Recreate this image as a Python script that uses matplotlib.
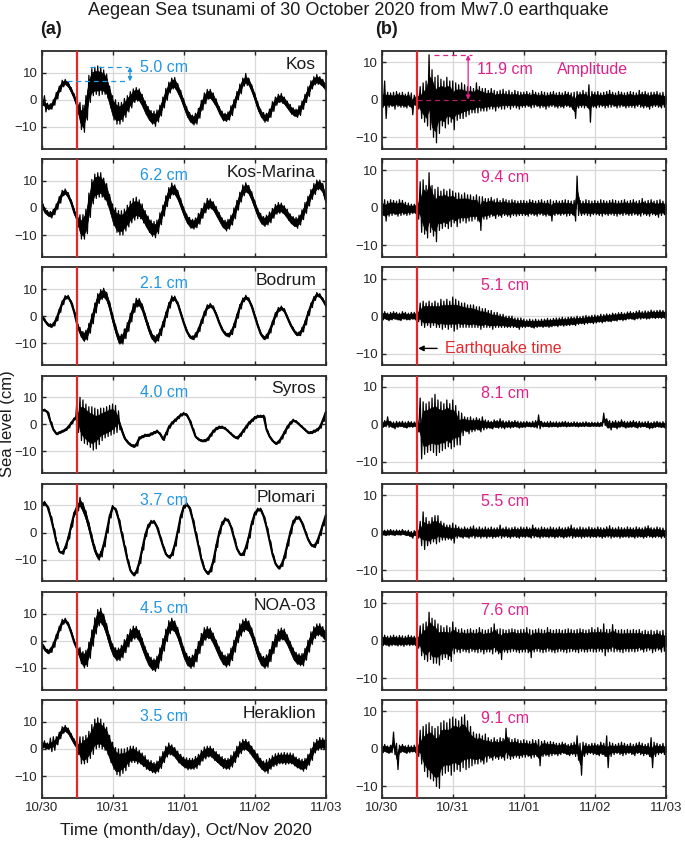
import numpy as np
import matplotlib
matplotlib.use('Agg')
import matplotlib.pyplot as plt

plt.rcParams['font.family'] = ['Liberation Sans', 'DejaVu Sans']

# ---------------- data ----------------
stations = ['Kos', 'Kos-Marina', 'Bodrum', 'Syros', 'Plomari', 'NOA-03', 'Heraklion']
amp_left = ['5.0 cm', '6.2 cm', '2.1 cm', '4.0 cm', '3.7 cm', '4.5 cm', '3.5 cm']
amp_right = ['11.9 cm', '9.4 cm', '5.1 cm', '8.1 cm', '5.5 cm', '7.6 cm', '9.1 cm']
day_labels = ['10/30', '10/31', '11/01', '11/02', '11/03']
day_ticks_h = [0, 24, 48, 72, 96]
hours = np.arange(97)          # hourly samples, 10/30 00:00 -> 11/03 00:00
quake_hour = 11.85             # earthquake time (hours after 10/30 00:00)

# ---- (a) observed sea level: centre line and noise half-width (cm), hourly ----
kos_c = [-1, -1.5, -2.5, -2.5, -1, 1.5, 4, 6, 6.5, 5.5, 3.5, 1,
         -2, -6, -7, -3, 4, 6.5, 7, 7, 7, 6.5, 5, 1,
         -3, -4.5, -5, -4.5, -3, -1.5, 0, 1.5, 2, 1.5, -0.5, -3,
         -5, -6.5, -7, -6, -4, -1, 2, 4.5, 6, 6, 4, 1.5,
         -1.5, -4.5, -6.5, -7.5, -7, -5, -2, 0.5, 2, 2, 0.5, -1.5,
         -4, -6, -6.5, -6, -4, -1.5, 1.5, 4, 6.5, 7.5, 6.5, 4,
         1, -2.5, -5, -6.5, -6.5, -5, -2.5, -0.5, 0.5, 0.5, -0.5, -2,
         -3.5, -4.5, -5, -4, -2, 0.5, 3, 5.5, 7, 7.5, 7, 6,
         4.5]
kos_w = [1, 3, 1.2, 1, 1, 1.2, 1, 1.2, 1, 1.2, 1, 1.2,
         3, 5, 5, 4.5, 5, 5, 5, 5.5, 5, 4.5, 4.5, 4,
         4.5, 4.5, 4, 3.5, 3.5, 3, 3, 2.5, 2.5, 2.5, 2.5, 2.5,
         2.5, 2.5, 2.8, 2.2, 2, 2, 2.2, 2, 2, 2.2, 2, 2,
         1.8, 2, 1.8, 1.8, 2, 1.8, 1.8, 2, 1.8, 1.8, 2, 1.8,
         1.5, 1.8, 1.5, 1.5, 1.8, 1.5, 1.5, 1.8, 1.5, 2.2, 1.5, 1.5,
         1.5, 1.8, 1.5, 1.8, 1.5, 1.5, 1.8, 1.5, 1.5, 1.8, 1.5, 1.5,
         1.8, 1.5, 1.5, 1.8, 1.5, 1.5, 1.8, 1.5, 1.5, 1.8, 1.5, 1.5,
         1.5]

kmar_c = [2, -1, -2, -2.5, -1.5, 0.5, 3, 5.5, 6, 4.5, 2, -1.5,
          -4, -7, -7, -5, 1, 6, 8, 8.5, 8.5, 7, 5, 1.5,
          -2.5, -4.5, -5.5, -5.5, -4.5, -3, -1.5, -0.5, 0, -0.5, -2, -4,
          -6, -7.5, -8, -7, -4, -1, 2.5, 5.5, 7, 6.5, 4.5, 1.5,
          -1.5, -4, -5.5, -6, -5.5, -4, -2, 0, 1.5, 1.5, 0.5, -1.5,
          -3.5, -5.5, -6.5, -6, -4.5, -2, 1, 4, 6.5, 7.5, 6.5, 4,
          1, -2, -4, -5, -4.5, -3.5, -2, -0.5, 0, 0, -1, -2.5,
          -4, -5, -5.5, -4.5, -2.5, 0, 2.5, 5, 7, 8.5, 8.5, 7,
          3]
kmar_w = [1.5, 1, 1, 1.2, 1, 1, 1.2, 1, 1, 1.2, 1, 1.2,
          3, 4.5, 4.5, 4.5, 4.5, 4.5, 4.5, 4.5, 4.5, 4, 4, 3.5,
          4, 4.5, 4.5, 4.5, 4, 4, 4, 4, 4, 3.5, 3.5, 3,
          3, 3, 3, 2.5, 2.2, 2, 2, 2, 2.2, 2, 2, 2,
          1.8, 1.8, 2, 1.8, 1.8, 2, 1.8, 1.8, 2, 1.8, 1.8, 2,
          1.8, 1.8, 2, 1.8, 1.8, 2, 1.8, 1.8, 2, 1.8, 1.8, 2,
          1.8, 1.8, 2, 1.8, 1.8, 2, 1.8, 1.8, 2, 1.8, 1.8, 2,
          1.8, 1.8, 2, 1.8, 1.8, 2, 1.8, 1.8, 2, 1.8, 1.8, 2,
          1.8]

bod_c = [0, -1.5, -3, -3.5, -3, -1, 2, 5, 7, 7, 5, 1.5,
         -3, -6, -7.5, -7, -4.5, -1, 3, 6.5, 8, 8.5, 7, 3.5,
         -1, -5, -8.5, -8.5, -6.5, -4, -0.5, 3, 5, 5, 3, -0.5,
         -4, -7, -8.5, -8, -6, -3, 0.5, 4, 6.5, 6.5, 4.5, 1,
         -2.5, -5.5, -7.5, -8, -7, -5, -2, 1, 3.5, 4, 3, 0.5,
         -2.5, -5, -6.5, -7, -6, -3.5, 0, 3.5, 6, 7, 6, 3.5,
         0, -3.5, -6.5, -8, -7.5, -5.5, -2.5, 0.5, 2.5, 3, 2, -0.5,
         -3, -5, -6.5, -6.5, -5, -2.5, 1, 4, 6.5, 8, 7.5, 6,
         4]
bod_w = [0.6, 0.7, 0.6, 0.7, 0.6, 0.7, 0.6, 0.7, 0.6, 0.7, 0.6, 0.7,
         1.2, 1.8, 1.8, 1.8, 1.8, 1.8, 1.8, 1.8, 1.8, 1.8, 1.8, 1.8,
         1.8, 1.8, 1.8, 1.8, 1.8, 1.6, 1.6, 1.6, 1.6, 1.5, 1.5, 1.5,
         1.5, 1.5, 1.4, 1.2, 1.2, 1, 1, 1, 1, 0.9, 0.8, 0.8,
         0.7, 0.8, 0.7, 0.7, 0.8, 0.7, 0.7, 0.8, 0.7, 0.7, 0.8, 0.7,
         0.7, 0.8, 0.7, 0.7, 0.8, 0.7, 0.7, 0.8, 0.7, 0.7, 0.8, 0.7,
         0.7, 0.8, 0.7, 0.7, 0.8, 0.7, 0.7, 0.8, 0.7, 0.7, 0.8, 0.7,
         0.7, 0.8, 0.7, 0.7, 0.8, 0.7, 0.7, 0.8, 0.7, 0.7, 0.8, 0.7,
         0.7]

syr_c = [5.3, 5.3, 4.5, 1, -2, -3.5, -3, -2.5, -2, -1, 0.5, 2,
         3, 2, 1, 0, -1, -1.5, -1.5, -1, 0, 0.5, 1, 1.5,
         2, 2, 1.5, -2, -5, -6.5, -7.5, -8, -7.5, -5, -4.5, -4,
         -4, -3.5, -3, -2.5, -3.5, -5.5, -3.5, -1, 0.5, 1.5, 2.5, 3.5,
         4, 3.5, 1.5, -1.5, -4.5, -5.5, -6, -6, -5.5, -4, -2.5, -1.5,
         -1, -1, -1.5, -2.5, -3.5, -4.5, -5, -4, -2.5, -1, 0.5, 1.5,
         2.5, 3, 3, 3, -2, -4.5, -6, -7, -6.5, -5, -3, -1,
         0.5, 1.5, 1, 0, -1, -2, -3, -3, -2.5, -2, -1, 1.5,
         4.5]
syr_w = [0.3, 0.3, 0.3, 0.3, 0.3, 0.3, 0.3, 0.3, 0.3, 0.3, 0.3, 0.3,
         6, 8, 8, 7.5, 7.5, 8, 7.5, 6.5, 6, 5.5, 5.5, 5.5,
         5.5, 5, 3.5, 1, 0.8, 0.6, 0.5, 0.5, 0.5, 0.4, 0.4, 0.4,
         0.4, 0.4, 0.4, 0.4, 0.4, 0.4, 0.4, 0.4, 0.4, 0.4, 0.4, 0.4,
         0.4, 0.4, 0.4, 0.4, 0.4, 0.4, 0.4, 0.4, 0.4, 0.4, 0.4, 0.4,
         0.4, 0.4, 0.4, 0.4, 0.4, 0.4, 0.4, 0.4, 0.4, 0.4, 0.4, 0.4,
         0.4, 0.4, 0.4, 0.4, 0.4, 0.4, 0.4, 0.4, 0.4, 0.4, 0.4, 0.4,
         0.4, 0.4, 0.4, 0.4, 0.4, 0.4, 0.4, 0.4, 0.4, 0.4, 0.4, 0.4,
         0.4]

plo_c = [10.5, 11, 9.5, 6, 1.5, -3.5, -7, -7.5, -5.5, -2, 2.5, 7,
         9.5, 11, 9, 6, 2, -2.5, -6.5, -9, -8, -4.5, 0.5, 6,
         9.5, 8.5, 5, 0, -5, -10, -14, -15.5, -14.5, -11, -6, -1,
         2.5, 4, 4, 2, -1.5, -5, -8, -9, -8, -4.5, 0.5, 6,
         9.5, 10.5, 9, 5, 0, -5, -10, -13.5, -15, -14, -10.5, -5,
         0, 3.5, 5, 4.5, 2, -2, -6, -8, -8, -5.5, -1.5, 3.5,
         7, 8.5, 8.5, 6, 2, -3, -8, -11.5, -13, -12, -9, -4.5,
         0, 4, 5.5, 5.5, 3.5, 0.5, -2.5, -4.5, -5, -3.5, -0.5, 3,
         6.3]
plo_w = [0.4, 0.5, 0.4, 0.4, 0.5, 0.4, 0.4, 0.5, 0.4, 0.4, 0.5, 0.4,
         1.5, 2, 2, 2, 1.8, 1.8, 1.5, 1.2, 1, 0.8, 0.7, 0.6,
         0.5, 0.5, 0.5, 0.5, 0.5, 0.5, 0.5, 0.5, 0.5, 0.5, 0.5, 0.5,
         0.5, 0.5, 0.5, 0.5, 0.5, 0.5, 0.5, 0.5, 0.5, 0.5, 0.5, 0.5,
         0.5, 0.5, 0.5, 0.5, 0.5, 0.5, 0.5, 0.5, 0.5, 0.5, 0.5, 0.5,
         0.5, 0.5, 0.5, 0.5, 0.5, 0.5, 0.5, 0.5, 0.5, 0.5, 0.5, 0.5,
         0.5, 0.5, 0.5, 0.5, 0.5, 0.5, 0.5, 0.5, 0.5, 0.5, 0.5, 0.5,
         0.5, 0.5, 0.5, 0.5, 0.5, 0.5, 0.5, 0.5, 0.5, 0.5, 0.5, 0.5,
         0.5]

noa_c = [-1, -3, -4, -3.5, -1.5, 1.5, 4.5, 7, 7.5, 6, 3, -0.5,
         -3, -5.5, -7, -6.5, -3.5, 1, 5.5, 8.5, 9, 7, 3.5, -0.5,
         -3.5, -5, -5, -4, -2, 0, 2, 3, 3, 1.5, -1.5, -4.5,
         -7, -8.5, -9, -8, -5, -1.5, 2, 5, 6, 5, 2.5, -1,
         -4.5, -7, -8, -7.5, -5.5, -2.5, 0.5, 2.5, 3, 2.5, 0.5, -2,
         -4.5, -6.5, -7.5, -7, -5, -2, 1.5, 4, 5.5, 6, 5, 2.5,
         -1, -4.5, -7, -8, -7.5, -5.5, -2.5, 0, 2, 2.5, 2, 0,
         -2.5, -5, -6.5, -7, -7, -5, -2, 1, 3, 4, 4, 3,
         1.5]
noa_w = [0.8, 0.9, 0.8, 0.8, 0.9, 0.8, 0.8, 0.9, 0.8, 0.8, 0.9, 0.8,
         2, 3, 3, 3, 3, 3, 3, 3, 3, 2.8, 2.8, 2.5,
         2.3, 2.4, 2.3, 2.3, 2.4, 2.3, 2.3, 2.4, 2.3, 2.3, 2.4, 2.3,
         2.3, 2.4, 2.3, 2.3, 2.4, 2.3, 2.3, 2.4, 2.3, 2.3, 2.4, 2.3,
         2.2, 2.3, 2.2, 2.2, 2.3, 2.2, 2.2, 2.3, 2.2, 2.2, 2.3, 2.2,
         2.2, 2.3, 2.2, 2.2, 2.3, 2.2, 2.2, 2.3, 2.2, 2.2, 2.3, 2.2,
         2.2, 2.3, 2.2, 2.2, 2.3, 2.2, 2.2, 2.3, 2.2, 2.2, 2.3, 2.2,
         2.2, 2.3, 2.2, 2.2, 2.3, 2.2, 2.2, 2.3, 2.2, 2.2, 2.3, 2.2,
         2.2]

her_c = [1.5, 1.5, 1, 1.5, 2, 3, 5, 7, 7.5, 6.5, 4.5, 2.5,
         1, -0.5, -0.5, 0, 1.5, 3.5, 5.5, 6, 5.5, 4.5, 3, 0,
         -2.5, -4.5, -5, -4.5, -4, -3, -2, -2, -2.5, -3, -4, -5,
         -6, -6.5, -7, -6.5, -5, -3, -1, 0, -0.5, -1.5, -3, -4,
         -5, -5.5, -5.5, -5.5, -5, -4, -2.5, -1.5, -1, -1, -2, -3,
         -4, -5, -5.5, -5.5, -4.5, -3, -1, 0.5, 1.5, 1.5, 0.5, -1,
         -2.5, -4, -5.5, -6.5, -6.5, -5.5, -4.5, -4, -3.5, -3.5, -3.5, -3.5,
         -3.5, -4, -5, -5.5, -6, -5.5, -4, -2, 0.5, 1.5, 2, 2,
         2]
her_w = [1.2, 1.5, 1.2, 2.5, 2.5, 1.5, 1.2, 1.2, 1.2, 1.2, 1.2, 1.2,
         3, 5, 5, 5, 5, 5.5, 5.5, 5.5, 5.5, 5, 5, 5,
         5, 5, 5, 4.5, 4, 3.5, 3, 3, 3, 2.5, 2.5, 2.5,
         2, 2.2, 2, 2, 2.2, 2, 2, 2.2, 2, 2, 2.2, 2,
         2, 2.2, 2, 2, 2.2, 2, 2, 2.2, 2, 2, 2.2, 2,
         2, 2.2, 2, 2, 2.2, 2, 2, 2.2, 2, 2, 2.2, 2,
         2, 2.2, 2, 2, 2.5, 2, 2, 2.2, 2, 2, 2.2, 2,
         2, 2.2, 2, 2, 2.2, 2, 2, 2.2, 2, 2, 2.2, 2,
         2]

# ---- (b) de-tided residuals: upper and lower envelope (cm), hourly ----
kos_up = [2, 5, 2, 1.8, 2, 2.2, 1.8, 2, 1.5, 2, 1.8, 1.2,
          2.5, 3.5, 4.5, 5, 12, 8, 6, 6.5, 5.5, 5, 6, 5,
          5, 4.5, 4, 4.5, 4, 3.5, 3.5, 3, 4.5, 3.5, 3, 3,
          2.5, 3, 2.5, 2.2, 2.5, 2.8, 2.2, 2.5, 2, 2.5, 2.2, 2,
          2, 2.2, 1.8, 2.5, 2, 1.8, 2.2, 2, 1.8, 2, 2.2, 1.8,
          2, 1.8, 2.2, 2, 1.8, 2, 2.2, 2, 2.5, 2, 4, 2.2,
          2, 2.2, 1.8, 2, 2.2, 2.5, 2, 1.8, 2.2, 2, 1.8, 2,
          2.2, 2, 1.8, 2.5, 2, 2.2, 1.8, 2, 2, 2.2, 1.8, 2,
          1.5]
kos_lo = [-2, -5, -2, -1.8, -2.5, -1.8, -2, -2, -2.2, -1.8, -4, -1.5,
          -2.5, -5, -6, -7, -8, -10, -11.5, -9, -7, -7.5, -6.5, -6,
          -8, -5.5, -5, -5, -4.5, -4, -3.5, -3.5, -3.5, -3, -3, -3,
          -2.5, -2.5, -3, -2.2, -2.5, -2.5, -2, -2.5, -2, -2.2, -2.5, -2,
          -2, -1.8, -2.2, -2, -1.8, -2.2, -2, -2.5, -2, -1.8, -2, -2.2,
          -2, -2.2, -1.8, -2, -2.5, -5, -2.2, -2, -2.2, -2, -6, -2,
          -2.2, -2, -1.8, -2.2, -2, -2, -1.8, -2.2, -2, -1.8, -2.2, -2,
          -2, -2.2, -1.8, -2, -2.2, -2, -2.5, -2, -1.8, -2, -2.2, -2,
          -1.5]

kmar_up = [2, 2.2, 1.8, 2.2, 2, 1.8, 2.2, 2, 1.5, 1.3, 1, 1,
           3, 7, 7.5, 6, 9.4, 6, 5, 5.5, 4.5, 5, 4.5, 5,
           4.5, 4, 4, 3.5, 4, 3.5, 3.5, 3, 3.5, 3, 3, 2.5,
           2.5, 2.8, 2.2, 2.5, 2, 2.5, 2.2, 2, 2.2, 2, 1.8, 2,
           2, 1.8, 2.2, 2, 1.8, 2, 2.2, 1.8, 2, 2.2, 1.8, 2,
           1.8, 2, 2.2, 2, 1.8, 2, 8.5, 2, 1.8, 2.2, 2, 1.8,
           2, 1.8, 2.2, 2, 1.8, 2, 2.2, 2, 1.8, 2, 2.2, 1.8,
           2, 2.2, 1.8, 2, 2.5, 1.8, 2, 2.2, 1.8, 2, 2.2, 1.8,
           1.5]
kmar_lo = [-2, -3.5, -2.2, -2, -1.8, -2.2, -2, -1.8, -2, -1.8, -1.5, -1.5,
           -3, -6.5, -7, -8, -6.5, -7.5, -9, -6, -5.5, -5, -5.5, -5,
           -4, -5, -4, -3.5, -4, -3.5, -3.5, -3, -3.5, -6, -3, -3,
           -2.5, -2.2, -2.8, -2.2, -2.5, -2, -2.2, -2.5, -2, -2.2, -2, -2,
           -2, -2.2, -1.8, -2, -2.2, -1.8, -2, -2.2, -2, -3.5, -2, -1.8,
           -2, -1.8, -2.2, -2, -1.8, -3.5, -2, -2, -1.8, -2, -2.2, -1.8,
           -1.8, -2, -2.2, -1.8, -2, -1.8, -2, -2.2, -1.8, -2, -1.8, -2,
           -2, -1.8, -2, -2.2, -1.8, -2, -2.2, -1.8, -2, -2.5, -2, -1.8,
           -2]

bod_up = [1, 1.2, 0.8, 1, 1.2, 1, 0.8, 1.2, 1, 0.8, 1, 1,
          2, 3.5, 4, 3.5, 4, 3.5, 4, 3.5, 4.5, 4, 4.5, 4,
          5.1, 4.5, 4, 3.5, 3.5, 3, 3, 3, 2.5, 2.5, 2, 2,
          1.5, 1.5, 1, 1, 0.5, 0.5, 0, 0, 0, -0.5, -0.5, -0.5,
          -0.8, -1, -0.8, -1, -0.8, -1, -0.8, -0.8, -0.6, -0.8, -0.6, -0.5,
          -0.5, -0.3, -0.5, -0.3, -0.2, -0.3, 0, -0.2, 0, 0.2, 0, 0.2,
          0.3, 0.2, 0.5, 0.4, 0.6, 0.5, 0.8, 0.7, 0.9, 1, 0.8, 1.1,
          1.2, 1, 1.3, 1.5, 1.2, 1.4, 1.3, 1.6, 1.4, 1.5, 1.6, 1.5,
          1.5]
bod_lo = [-1, -0.8, -1.2, -1, -0.8, -1, -1.2, -0.8, -1, -1, -0.8, -1,
          -1.5, -2.5, -3, -2.5, -3, -2.5, -3, -3, -3.5, -3, -3.5, -3,
          -4, -3.5, -3, -3, -3, -3, -3, -3, -3, -3.5, -3, -3,
          -3, -3.5, -3, -3, -3, -3, -3, -3, -3, -3, -3.5, -3,
          -3, -2.8, -3, -3.2, -3, -2.8, -3, -2.8, -3, -2.8, -2.6, -2.8,
          -2.5, -2.7, -2.5, -2.5, -2.3, -2.5, -2.2, -2, -2.2, -2, -1.8, -2,
          -1.8, -1.6, -1.8, -1.5, -1.4, -1.5, -1.2, -1.3, -1, -1.2, -1, -0.8,
          -0.8, -1, -0.7, -0.8, -0.6, -0.8, -0.7, -0.5, -0.6, -0.5, -0.6, -0.5,
          -0.4]

syr_up = [0.8, 1, 2, 0.8, 0.6, 0.8, 0.7, 0.8, 0.6, 0.8, 0.7, 0.6,
          2, 7, 6, 5.5, 6, 7, 8, 6.5, 6, 5.5, 6.5, 5.5,
          6.5, 5, 3.5, 3, 2, 1.8, 2, 1.5, 1.8, 1.5, 2, 1.2,
          1, 0.8, 1.2, 1, 1.5, 1, 0.8, 1, 0.8, 1, 0.8, 0.7,
          0.7, 0.8, 0.6, 0.8, 1, 2.5, 0.8, 0.6, 0.7, 0.8, 0.6, 0.7,
          0.6, 0.7, 0.8, 0.6, 0.5, 0.7, 0.6, 0.5, 0.6, 0.7, 0.5, 0.6,
          0.5, 0.6, 0.5, 3, 1.5, 1, 0.8, 1, 0.8, 1.2, 0.8, 0.7,
          0.8, 1, 0.7, 0.8, 0.6, 0.7, 0.8, 0.5, 0.7, 0.8, 0.6, 0.7,
          0.7]
syr_lo = [-0.8, -0.6, -0.8, -0.7, -1.2, -0.8, -0.6, -0.8, -1, -0.7, -0.8, -0.6,
          -2, -9.2, -8, -7.5, -7, -7.5, -8.3, -7.5, -7, -6.5, -6, -6.5,
          -6, -5.5, -5.5, -3, -2, -2.5, -2, -1.8, -1.5, -2, -1.5, -1.2,
          -1, -1.2, -0.8, -1, -1, -1.2, -0.8, -1, -0.8, -0.7, -1, -0.8,
          -0.8, -0.6, -0.7, -0.8, -1, -1.2, -0.7, -0.6, -0.8, -0.7, -0.6, -0.8,
          -0.6, -0.5, -0.7, -0.6, -0.5, -0.6, -0.7, -0.5, -0.6, -0.5, -0.6, -0.5,
          -0.5, -0.6, -0.5, -0.3, -1, -1.5, -0.8, -1.2, -0.8, -0.7, -1, -0.8,
          -0.8, -0.7, -1, -0.8, -0.6, -0.8, -1.2, -1, -0.8, -0.7, -0.8, -0.9,
          -0.8]

plo_up = [0.8, 0.6, 0.7, 0.8, 0.6, 0.7, 0.6, 0.8, 0.5, 0.6, 0.3, 0.5,
          1.5, 3, 5.5, 4, 3, 4, 4.5, 4.5, 3, 2.5, 2, 2,
          2.5, 2, 1.5, 1.2, 1.5, 1.2, 1.5, 1.8, 1.2, 1.5, 1.2, 1.5,
          1.2, 1.5, 1.2, 1.3, 2, 1.2, 1.5, 1.2, 1.3, 1.5, 1.2, 1.5,
          1.3, 1.5, 1.2, 2, 1.3, 1.2, 1.5, 1.3, 1.2, 1.5, 1.3, 1.2,
          1.5, 1.2, 1.3, 1.5, 2, 1.3, 1.2, 1.5, 1.3, 1.2, 1.5, 1.3,
          1.2, 1.5, 1.3, 1.2, 1.5, 1.8, 1.3, 1.2, 1.5, 1.3, 1.2, 1.5,
          1.3, 1.2, 1.5, 1.3, 1.2, 1.5, 1.8, 1.3, 1.2, 1.5, 1.3, 1.2,
          1]
plo_lo = [-0.6, -0.8, -0.7, -0.6, -0.8, -0.6, -0.7, -0.5, -0.8, -1, -1.5, -0.8,
          -1.5, -3.5, -4.5, -3.5, -3, -2.5, -3, -2.5, -2, -2, -1.8, -2,
          -2.8, -1.5, -1.2, -1.5, -1.2, -1.5, -1.2, -1.5, -1.2, -1.5, -1.2, -1.5,
          -1.2, -1.5, -1.3, -1.2, -1.5, -1.2, -1.3, -1.5, -1.2, -1.3, -1.5, -1.2,
          -1.3, -1.2, -1.5, -1.3, -1.2, -1.5, -1.3, -1.2, -1.4, -1.2, -1.5, -1.3,
          -1.2, -1.5, -1.3, -1.2, -1.5, -1.3, -1.2, -1.5, -1.3, -1.2, -1.4, -1.2,
          -1.3, -1.2, -1.5, -1.3, -1.2, -1.5, -1.3, -1.2, -1.5, -1.3, -1.2, -1.4,
          -1.2, -1.5, -1.3, -1.2, -1.5, -1.3, -1.2, -1.4, -1.3, -1.2, -1.5, -1.3,
          -1]

noa_up = [1.3, 1.5, 1.2, 1.3, 1.5, 1.2, 1.4, 1.3, 1.2, 1.5, 1.3, 1.2,
          2, 4, 4.5, 5, 7.6, 6, 5.5, 4.5, 4, 3.5, 4, 3.5,
          5, 3.5, 3, 3.2, 2.8, 3, 3.2, 2.8, 3, 3.5, 3, 2.8,
          3, 3.5, 4.5, 3, 3.2, 3, 2.8, 3, 3.2, 3, 2.8, 3,
          3, 3.5, 3, 2.8, 3, 3.2, 3, 2.8, 3.5, 3, 2.8, 3,
          3, 2.8, 3, 3.2, 3, 2.8, 3, 3.2, 3, 2.8, 3, 3.5,
          3, 3.5, 3, 4.5, 3, 3, 4.3, 3, 2.8, 3, 2.8, 3,
          2.8, 3, 2.8, 3, 2.5, 2.8, 2.5, 2.8, 2.5, 2.8, 2.5, 2.8,
          2]
noa_lo = [-1.3, -1.2, -1.5, -1.3, -1.2, -1.4, -1.3, -1.5, -1.2, -1.3, -1.2, -1.3,
          -2, -4, -5, -5.5, -5, -6, -6, -6.5, -5, -4.5, -5, -5.5,
          -3.5, -3, -3.2, -2.8, -3, -3.2, -2.8, -3, -3.2, -3, -3.5, -3,
          -3, -3.5, -3, -3.5, -5, -3, -3.2, -3, -2.8, -3, -3.2, -3,
          -3, -3.2, -4.5, -3, -2.8, -3, -3.2, -3, -2.8, -3, -3.2, -3,
          -2.8, -3, -3.2, -3, -2.8, -3, -3.2, -2.8, -3, -3, -2.8, -3,
          -3, -2.8, -3, -4, -3, -2.8, -3, -2.8, -3, -3.2, -2.8, -3,
          -2.8, -3, -2.8, -2.5, -3, -2.8, -2.5, -3.2, -2.8, -2.5, -3, -2.8,
          -2]

her_up = [1, 1.2, 0.8, 1, 4.5, 1.5, 1, 1.2, 0.8, 1, 0.8, 1,
          2, 5, 6, 6.5, 7, 6, 5.5, 6, 7, 7.5, 7, 8,
          8.5, 8, 7.5, 8.5, 9.1, 7.5, 6, 4.5, 4, 4, 3.5, 4,
          3, 2.5, 3, 2.5, 3, 2.8, 5.5, 3, 2.5, 2.8, 2.5, 2.2,
          2.5, 2.2, 2, 2.5, 2.2, 2.5, 2, 2.2, 1.8, 2, 1.8, 1.5,
          1.5, 1.8, 1.5, 1.2, 1.5, 1.8, 3.5, 1.5, 1.8, 1.5, 1.2, 1.5,
          1.5, 1.2, 1.8, 1.5, 3.5, 1.8, 1.5, 1.2, 1.5, 1.8, 1.5, 1.2,
          1.5, 1.2, 1.5, 1.8, 1.5, 1.2, 1.5, 3, 1.8, 1.5, 1.2, 1.5,
          1]
her_lo = [-1, -0.8, -1.2, -1, -1.5, -5.5, -1, -0.8, -1.2, -1, -0.8, -1,
          -2, -4, -6, -7.5, -8, -8.5, -10, -10.5, -7, -6.5, -6, -7,
          -6, -5.5, -6, -5, -5.5, -5, -4.5, -4, -4, -3.5, -4, -3.5,
          -2.5, -3, -2.5, -2.8, -2.5, -3, -2.5, -2.8, -2.5, -2.2, -2.5, -2.2,
          -2.2, -2, -2.5, -2.2, -2, -4.5, -2, -1.8, -2, -1.8, -1.5, -1.8,
          -1.5, -1.2, -1.5, -1.8, -1.5, -2, -3, -7, -2, -1.5, -1.2, -1.5,
          -1.5, -1.8, -1.5, -2, -5, -2, -1.5, -1.2, -1.5, -1.8, -1.5, -1.2,
          -1.5, -1.8, -1.2, -1.5, -1.8, -1.5, -2, -5, -2, -1.5, -1.2, -1.5,
          -1]

left_c = [kos_c, kmar_c, bod_c, syr_c, plo_c, noa_c, her_c]
left_w = [kos_w, kmar_w, bod_w, syr_w, plo_w, noa_w, her_w]
right_up = [kos_up, kmar_up, bod_up, syr_up, plo_up, noa_up, her_up]
right_lo = [kos_lo, kmar_lo, bod_lo, syr_lo, plo_lo, noa_lo, her_lo]

for name, arr in zip(['c', 'w', 'up', 'lo'], [left_c, left_w, right_up, right_lo]):
    lens = [len(a) for a in arr]
    assert all(l == len(hours) for l in lens), (name, lens)

# ---------------- styling ----------------
BLUE = '#2196E3'
MAG = '#E0218A'
RED = '#E8262A'
W, H = 685.0, 844.0
ax_w, ax_h = 284.2, 97.5
lefts = [41.5, 381.7]
tops = [51 + 108.2 * i for i in range(7)]

fig = plt.figure(figsize=(6.85, 8.44), dpi=100)


def style(ax, ylim, bottom):
    ax.set_xlim(0, 96)
    ax.set_ylim(*ylim)
    ax.set_yticks([-10, 0, 10])
    ax.set_xticks(day_ticks_h)
    if bottom:
        ax.set_xticklabels(day_labels)
    else:
        ax.set_xticklabels([])
    ax.grid(True, color='#d8d8d8', lw=0.9)
    ax.set_axisbelow(True)
    ax.tick_params(direction='in', length=3, width=1.0, top=True, right=True,
                   labelsize=9.5, colors='#262626', pad=3)
    for s in ax.spines.values():
        s.set_linewidth(1.3)
        s.set_color('#2b2b2b')


def noisy(ax, upper, lower):
    """Draw a dense record between the read upper / lower envelopes."""
    upper = np.asarray(upper, dtype=float)
    lower = np.asarray(lower, dtype=float)
    mid = (upper + lower) / 2.0
    half = (upper - lower) / 2.0
    # solid core: isolated single-hour spikes stay as thin strokes only
    padded = np.pad(half, 1, mode='edge')
    core = np.minimum(np.minimum(padded[:-2], padded[1:-1]), padded[2:])
    ax.fill_between(hours, mid - 0.72 * core, mid + 0.72 * core,
                    color='black', lw=0.5, zorder=2)
    xs = np.column_stack([hours, hours + 0.5]).ravel()
    ys = np.column_stack([upper, lower]).ravel()
    ax.plot(xs, ys, color='black', lw=0.9, zorder=2)


for i in range(7):
    bottom = (i == 6)
    # ---- left column (a)
    axl = fig.add_axes([lefts[0] / W, 1 - (tops[i] + ax_h) / H, ax_w / W, ax_h / H])
    c = np.array(left_c[i], dtype=float)
    w = np.array(left_w[i], dtype=float)
    noisy(axl, c + w, c - w)
    axl.plot(hours, c, color='black', lw=1.4, zorder=2)
    axl.axvline(quake_hour, color=RED, lw=1.6, zorder=4)
    style(axl, (-18, 18), bottom)
    axl.text(0.966, 0.94, stations[i], transform=axl.transAxes, ha='right', va='top',
             fontsize=12.5, color='#1a1a1a', zorder=5)
    axl.text(0.43, 0.83, amp_left[i], transform=axl.transAxes, ha='center', va='center',
             fontsize=11.5, color=BLUE, zorder=5)

    # ---- right column (b)
    axr = fig.add_axes([lefts[1] / W, 1 - (tops[i] + ax_h) / H, ax_w / W, ax_h / H])
    noisy(axr, right_up[i], right_lo[i])
    axr.axvline(quake_hour, color=RED, lw=1.6, zorder=4)
    style(axr, (-13, 13), bottom)
    axr.text(0.434, 0.815, amp_right[i], transform=axr.transAxes, ha='center', va='center',
             fontsize=11.5, color=MAG, zorder=5)

    if i == 0:
        # amplitude annotation, panel (a)
        axl.plot([16.4, 29.3], [12, 12], ls=(0, (4, 3)), color=BLUE, lw=0.9, zorder=5)
        axl.plot([8.5, 29.3], [7, 7], ls=(0, (4, 3)), color=BLUE, lw=0.9, zorder=5)
        axl.annotate('', xy=(29.9, 12.2), xytext=(29.9, 6.8),
                     arrowprops=dict(arrowstyle='<|-|>', color=BLUE, lw=0.9,
                                     mutation_scale=6, shrinkA=0, shrinkB=0), zorder=5)
        # amplitude annotation, panel (b)
        axr.plot([17.7, 30.5], [11.9, 11.9], ls=(0, (4, 3)), color=MAG, lw=0.9, zorder=5)
        axr.plot([11.9, 33.2], [0, 0], ls=(0, (4, 3)), color='#B0206A', lw=0.9, zorder=5)
        axr.annotate('', xy=(29.2, 11.9), xytext=(29.2, 0),
                     arrowprops=dict(arrowstyle='<|-|>', color=MAG, lw=0.9,
                                     mutation_scale=6, shrinkA=0, shrinkB=0), zorder=5)
        axr.text(0.616, 0.815, 'Amplitude', transform=axr.transAxes, ha='left', va='center',
                 fontsize=11.5, color=MAG, zorder=5)
    if i == 2:
        axr.annotate('', xy=(12.3, -8.6), xytext=(18.7, -8.6),
                     arrowprops=dict(arrowstyle='-|>', color='black', lw=1.0,
                                     mutation_scale=8, shrinkA=0, shrinkB=0), zorder=5)
        axr.text(21.4, -8.6, 'Earthquake time', ha='left', va='center',
                 fontsize=11.5, color=RED, zorder=5)

fig.text(0.508, 0.988, 'Aegean Sea tsunami of 30 October 2020 from Mw7.0 earthquake',
         ha='center', va='center', fontsize=13, color='#1a1a1a')
fig.text(40 / W, 1 - 30 / H, '(a)', ha='left', va='center', fontsize=13,
         fontweight='bold', color='#1a1a1a')
fig.text(375 / W, 1 - 30 / H, '(b)', ha='left', va='center', fontsize=13,
         fontweight='bold', color='#1a1a1a')
fig.text(7.5 / W, 1 - 424 / H, 'Sea level (cm)', rotation=90, ha='center', va='center',
         fontsize=12, color='#1a1a1a')
fig.text(185.8 / W, 1 - 830 / H, 'Time (month/day), Oct/Nov 2020', ha='center',
         va='center', fontsize=12.5, color='#1a1a1a')

fig.savefig('out.png', dpi=100)
